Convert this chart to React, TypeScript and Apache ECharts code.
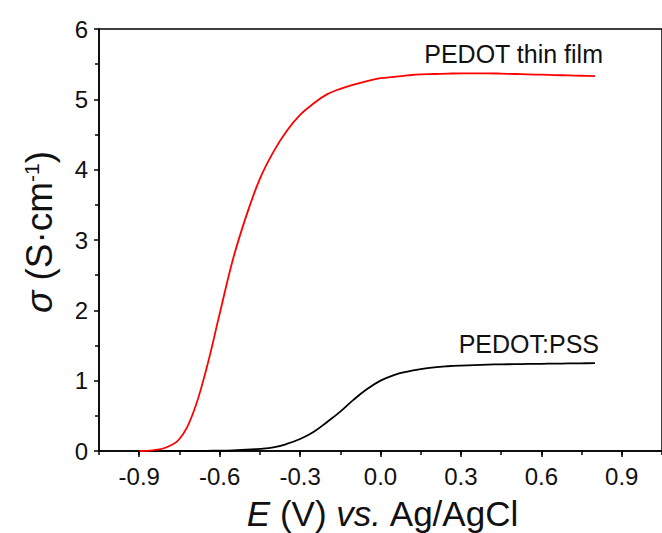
import React, { useEffect, useRef } from "react";
import * as echarts from "echarts";

const filmE = [-0.9, -0.85, -0.8, -0.75, -0.7, -0.65, -0.6, -0.55, -0.5, -0.45, -0.4, -0.35, -0.3, -0.25, -0.2, -0.15, -0.1, -0.05, 0, 0.05, 0.1, 0.15, 0.2, 0.25, 0.3, 0.35, 0.4, 0.45, 0.5, 0.55, 0.6, 0.65, 0.7, 0.75, 0.8];
const filmSigma = [0, 0.01, 0.05, 0.17, 0.53, 1.16, 1.95, 2.73, 3.35, 3.87, 4.25, 4.55, 4.78, 4.94, 5.07, 5.15, 5.21, 5.26, 5.3, 5.32, 5.34, 5.355, 5.36, 5.365, 5.37, 5.37, 5.37, 5.365, 5.36, 5.355, 5.35, 5.345, 5.34, 5.335, 5.33];

const pssE = [-0.9, -0.85, -0.8, -0.75, -0.7, -0.65, -0.6, -0.55, -0.5, -0.45, -0.4, -0.35, -0.3, -0.25, -0.2, -0.15, -0.1, -0.05, 0, 0.05, 0.1, 0.15, 0.2, 0.25, 0.3, 0.35, 0.4, 0.45, 0.5, 0.55, 0.6, 0.65, 0.7, 0.75, 0.8];
const pssSigma = [0, 0, 0, 0, 0, 0.003, 0.005, 0.01, 0.02, 0.03, 0.05, 0.1, 0.17, 0.27, 0.41, 0.56, 0.73, 0.88, 1.0, 1.08, 1.13, 1.165, 1.19, 1.205, 1.215, 1.222, 1.228, 1.232, 1.235, 1.238, 1.24, 1.242, 1.245, 1.247, 1.25];

const xMajorTicks = [-0.9, -0.6, -0.3, 0, 0.3, 0.6, 0.9];
const yTicks = [0, 1, 2, 3, 4, 5, 6];

const FONT = "'Liberation Sans', Arial, sans-serif";

export default function App() {
  const ref = useRef<HTMLDivElement>(null);
  useEffect(() => {
    document.body.style.margin = "0";
    if (!ref.current) return;
    const chart = echarts.init(ref.current, null, { renderer: "svg" });
    const fmt = (v: number) => (Math.abs(v) < 1e-9 ? "0.0" : v.toFixed(1));
    chart.setOption({
      animation: false,
      backgroundColor: "#fff",
      grid: {
        left: 99,
        top: 29,
        width: 567,
        height: 422,
        show: true,
        borderColor: "#000",
        borderWidth: 1.5,
        backgroundColor: "transparent",
      },
      xAxis: [
        {
          type: "value",
          min: -1.05,
          max: 1.05,
          interval: 0.15,
          position: "bottom",
          axisLine: { show: true, onZero: false, lineStyle: { color: "#000", width: 1.5 } },
          axisTick: { show: true, inside: false, length: 4, lineStyle: { color: "#000", width: 1.5 } },
          axisLabel: {
            customValues: xMajorTicks,
            formatter: (v: number) => fmt(v),
            color: "#111",
            fontSize: 24,
            fontFamily: FONT,
            margin: 13,
          },
          splitLine: { show: false },
        },
        {
          type: "value",
          min: -1.05,
          max: 1.05,
          position: "bottom",
          axisLine: { show: false, onZero: false },
          axisTick: { show: true, inside: false, length: 6, customValues: xMajorTicks, lineStyle: { color: "#000", width: 1.5 } },
          axisLabel: { show: false },
          splitLine: { show: false },
        },
      ],
      yAxis: {
        type: "value",
        min: 0,
        max: 6,
        interval: 1,
        axisLine: { show: true, onZero: false, lineStyle: { color: "#000", width: 1.5 } },
        axisTick: { show: true, inside: false, length: 5, lineStyle: { color: "#000", width: 1.5 } },
        minorTick: { show: true, splitNumber: 2, length: 4, lineStyle: { color: "#000", width: 1.5 } },
        axisLabel: {
          customValues: yTicks,
          color: "#111",
          fontSize: 24,
          fontFamily: FONT,
          margin: 11,
        },
        splitLine: { show: false },
      },
      graphic: [
        {
          type: "text",
          x: 383,
          y: 513,
          style: {
            text: "{i|E} (V) {i|vs.} Ag/AgCl",
            fontSize: 35,
            fontFamily: FONT,
            fill: "#111",
            textAlign: "center",
            textVerticalAlign: "middle",
            rich: {
              i: { fontSize: 35, fontFamily: FONT, fontStyle: "italic", fill: "#111" },
            },
          },
        },
        {
          type: "text",
          x: 39,
          y: 232,
          rotation: Math.PI / 2,
          style: {
            text: "{i|σ} (S·cm{s|-1})",
            fontSize: 37,
            fontFamily: FONT,
            fill: "#111",
            textAlign: "center",
            textVerticalAlign: "middle",
            rich: {
              i: { fontSize: 37, fontFamily: FONT, fontStyle: "italic", fill: "#111" },
              s: { fontSize: 21, fontFamily: FONT, fill: "#111", verticalAlign: "top", padding: [0, 0, 15, 0] },
            },
          },
        },
        {
          type: "text",
          x: 603,
          y: 54,
          style: {
            text: "PEDOT thin film",
            fontSize: 25,
            fontFamily: FONT,
            fill: "#111",
            textAlign: "right",
            textVerticalAlign: "middle",
          },
        },
        {
          type: "text",
          x: 599,
          y: 344,
          style: {
            text: "PEDOT:PSS",
            fontSize: 25,
            fontFamily: FONT,
            fill: "#111",
            textAlign: "right",
            textVerticalAlign: "middle",
          },
        },
      ],
      series: [
        {
          name: "PEDOT thin film",
          type: "line",
          xAxisIndex: 0,
          data: filmE.map((e, i) => [e, filmSigma[i]]),
          showSymbol: false,
          smooth: 0.4,
          lineStyle: { color: "#ff0000", width: 1.8 },
          z: 3,
        },
        {
          name: "PEDOT:PSS",
          type: "line",
          xAxisIndex: 0,
          data: pssE.map((e, i) => [e, pssSigma[i]]),
          showSymbol: false,
          smooth: 0.4,
          lineStyle: { color: "#000", width: 1.8 },
          z: 2,
        },
      ],
    });
    return () => chart.dispose();
  }, []);
  return <div ref={ref} style={{ width: 662, height: 533 }} />;
}
